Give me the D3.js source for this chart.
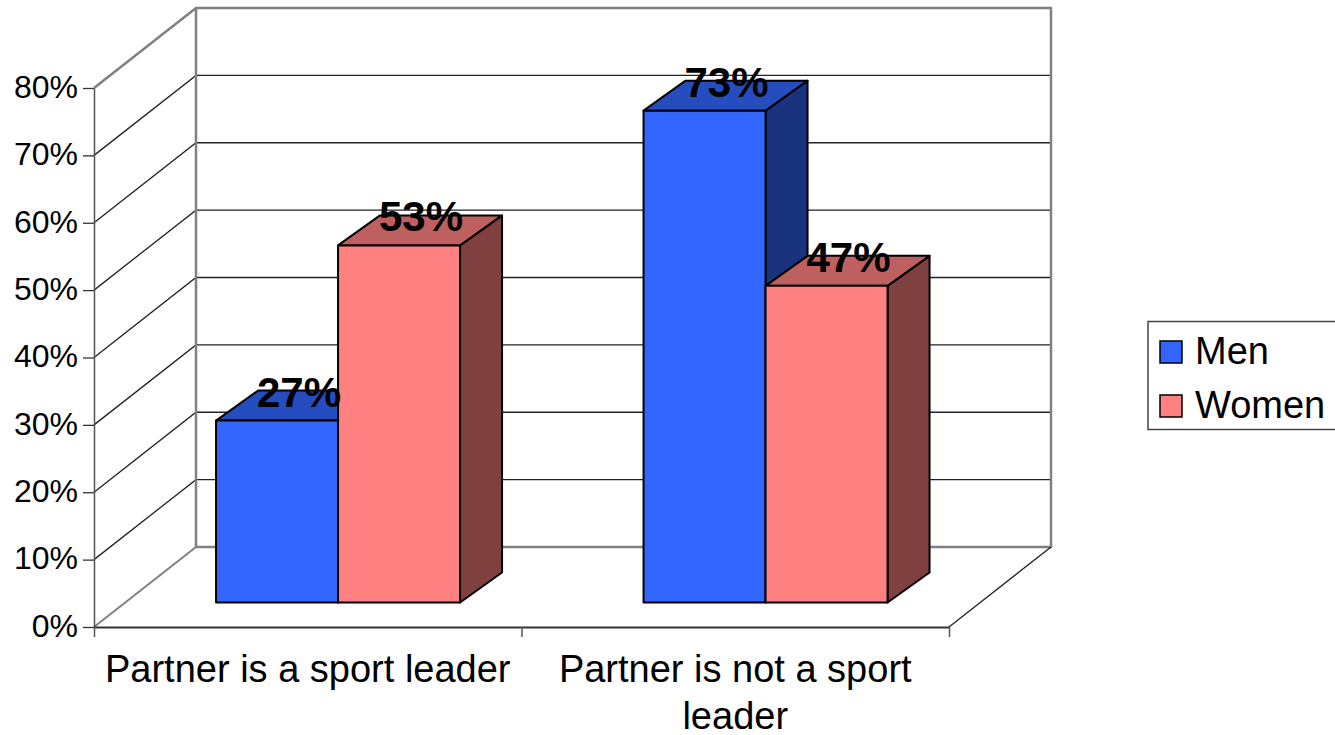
<!DOCTYPE html>
<html>
<head>
<meta charset="utf-8">
<script src="https://cdnjs.cloudflare.com/ajax/libs/d3/7.8.5/d3.min.js"></script>
<style>
  html, body { margin: 0; padding: 0; background: #fff; overflow: hidden; }
  text { font-family: "Liberation Sans", Arial, sans-serif; fill: #000; }
</style>
</head>
<body>
<script>
const categories = [["Partner is a sport leader"], ["Partner is not a sport", "leader"]];
const seriesNames = ["Men", "Women"];
const men = [27, 73];
const women = [53, 47];
const yTicks = [0, 10, 20, 30, 40, 50, 60, 70, 80];

const w = 1335;
const h = 735;

const faceColors = {
    Men: { front: "#3366ff", top: "#264dbf", side: "#1a337f" },
    Women: { front: "#ff8080", top: "#bf6060", side: "#804040" },
};

// depth of the whole box, and of the bars inside it
const depthX = 102;
const depthY = -80;
const barOffsetX = 30.3;
const barOffsetY = -24.5;
const barDepthX = 42;
const barDepthY = -30;

const x = d3.scaleLinear().domain([0, categories.length]).range([94, 949]);
const y = d3.scaleLinear().domain([0, 80]).range([627, 88]);
const barWidth = 122;

const svg = d3.select("body").append("svg").attr("width", w).attr("height", h);
svg.append("rect").attr("width", w).attr("height", h).attr("fill", "#fff");

const x0 = x.range()[0];
const x1 = x.range()[1];

// gridlines on side wall and back wall
const grid = svg.append("g").attr("fill", "none");
grid.selectAll("path.grid")
    .data(yTicks.slice(1, -1))
    .join("path")
    .attr("class", "grid")
    .attr("stroke", "#222")
    .attr("stroke-width", 1.3)
    .attr("d", d => `M${x0},${y(d)}L${x0 + depthX},${y(d) + depthY}H${x1 + depthX}`);

// box outline: back wall, top edge, floor
grid.append("path")
    .attr("stroke", "#808080")
    .attr("stroke-width", 2.5)
    .attr("d", `M${x0},${y(80)}L${x0 + depthX},${y(80) + depthY}H${x1 + depthX}V${y(0) + depthY}H${x0 + depthX}V${y(80) + depthY}`);
grid.append("path")
    .attr("stroke", "#808080")
    .attr("stroke-width", 2)
    .attr("d", `M${x0},${y(0)}L${x0 + depthX},${y(0) + depthY}`);
grid.append("path")
    .attr("stroke", "#222")
    .attr("stroke-width", 1.3)
    .attr("d", `M${x1},${y(0)}L${x1 + depthX},${y(0) + depthY}`);

// y axis
const yAxis = svg.append("g")
    .attr("transform", `translate(${x0},0)`)
    .call(d3.axisLeft(y).tickValues(yTicks).tickFormat(d => `${d}%`).tickSize(11).tickSizeOuter(0).tickPadding(5));
yAxis.attr("font-family", null);
yAxis.select(".domain").attr("stroke", "#555").attr("stroke-width", 1.5);
yAxis.selectAll(".tick line").attr("stroke", "#333").attr("stroke-width", 1.3);
yAxis.selectAll("text").attr("font-size", 32).attr("dy", "0.29em");

// x axis, ticks sit on the category edges
const xAxis = svg.append("g")
    .attr("transform", `translate(0,${y(0)})`)
    .call(d3.axisBottom(x).tickValues(d3.range(categories.length + 1)).tickFormat("").tickSize(10).tickSizeOuter(0));
xAxis.select(".domain").attr("stroke", "#333").attr("stroke-width", 2);
xAxis.selectAll(".tick line").attr("stroke", "#555").attr("stroke-width", 1.5);

const catLabels = svg.append("g").attr("font-size", 38).attr("text-anchor", "middle");
categories.forEach((lines, i) => {
    lines.forEach((line, j) => {
        catLabels.append("text")
            .attr("x", x(i + 0.5))
            .attr("y", 682 + j * 47)
            .text(line);
    });
});

// bars, men left of the category centre and women right of it
const bars = [];
categories.forEach((c, i) => {
    bars.push({ name: "Men", value: men[i], left: x(i + 0.5) + barOffsetX - barWidth });
    bars.push({ name: "Women", value: women[i], left: x(i + 0.5) + barOffsetX });
});

function barGeom(d) {
    const base = y(0) + barOffsetY;
    const top = y(d.value) + barOffsetY;
    return { l: d.left, r: d.left + barWidth, base, top };
}

const barG = svg.append("g")
    .attr("stroke", "#000")
    .attr("stroke-width", 2)
    .attr("stroke-linejoin", "round")
    .selectAll("g")
    .data(bars)
    .join("g");

barG.append("path")
    .attr("fill", d => faceColors[d.name].side)
    .attr("d", d => {
        const g = barGeom(d);
        return `M${g.r},${g.base}L${g.r + barDepthX},${g.base + barDepthY}V${g.top + barDepthY}L${g.r},${g.top}Z`;
    });
barG.append("path")
    .attr("fill", d => faceColors[d.name].top)
    .attr("d", d => {
        const g = barGeom(d);
        return `M${g.l},${g.top}L${g.l + barDepthX},${g.top + barDepthY}H${g.r + barDepthX}L${g.r},${g.top}Z`;
    });
barG.append("path")
    .attr("fill", d => faceColors[d.name].front)
    .attr("d", d => {
        const g = barGeom(d);
        return `M${g.l},${g.base}V${g.top}H${g.r}V${g.base}Z`;
    });

// value labels go over every bar
svg.append("g")
    .attr("font-size", 42)
    .attr("font-weight", "bold")
    .attr("text-anchor", "middle")
    .selectAll("text")
    .data(bars)
    .join("text")
    .attr("x", d => d.left + barWidth / 2 + barDepthX / 2 + 1)
    .attr("y", d => barGeom(d).top + barDepthY / 2 + 1)
    .text(d => `${d.value}%`);

// legend, runs off the right edge like the original
const legend = svg.append("g");
legend.append("rect")
    .attr("x", 1148).attr("y", 321.5)
    .attr("width", 200).attr("height", 108)
    .attr("fill", "#fff").attr("stroke", "#444").attr("stroke-width", 1.5);
const legendRow = d3.scalePoint().domain(seriesNames).range([352, 406]);
seriesNames.forEach(name => {
    legend.append("rect")
        .attr("x", 1160).attr("y", legendRow(name) - 11)
        .attr("width", 22).attr("height", 22)
        .attr("fill", faceColors[name].front)
        .attr("stroke", "#000").attr("stroke-width", 1.5);
    legend.append("text")
        .attr("x", 1195).attr("y", legendRow(name) + 12)
        .attr("font-size", 38)
        .text(name);
});
</script>
</body>
</html>
